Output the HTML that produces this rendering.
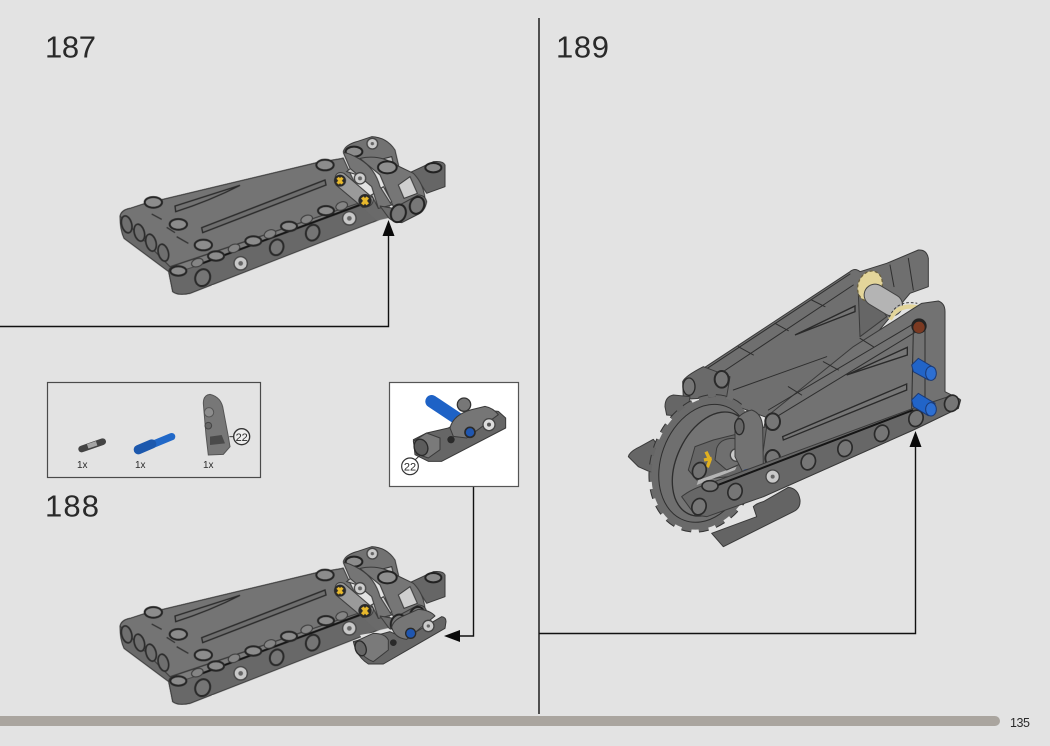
<!DOCTYPE html>
<html><head><meta charset="utf-8"><style>
html,body{margin:0;padding:0;background:#e3e3e3;width:1050px;height:746px;overflow:hidden}
svg{display:block;position:absolute;left:0;top:0}
text{font-family:"Liberation Sans",sans-serif;fill:#2a2a2a}
.k{fill:none;stroke:#2e2e2e;stroke-width:3;stroke-linejoin:round;stroke-linecap:round}
.p{stroke:#3a3a3a;stroke-width:3;stroke-linejoin:round}
</style></head><body>
<svg width="1050" height="746" viewBox="0 0 1050 746" xmlns="http://www.w3.org/2000/svg">
<rect width="1050" height="746" fill="#e3e3e3"/>
<defs>
<g id="m" style="filter:blur(.55px)">
<path class="p" fill="#6a6a6a" d="M30,260 Q32,240 60,235 L100,222 L620,98 L700,85 L750,225 L800,270 L240,490 Q205,498 188,485 L176,425 L42,325 Q30,300 30,260 Z"/>
<path class="p" fill="#747474" d="M30,258 Q35,240 60,235 L100,222 L620,98 L700,85 L760,215 L180,410 Z"/>
<g fill="#6f6f6f" stroke="#2c2c2c" stroke-width="5">
<ellipse cx="50" cy="283" rx="15" ry="26" transform="rotate(-15 50 283)"/>
<ellipse cx="88" cy="308" rx="15" ry="26" transform="rotate(-15 88 308)"/>
<ellipse cx="123" cy="338" rx="15" ry="26" transform="rotate(-15 123 338)"/>
<ellipse cx="160" cy="368" rx="15" ry="26" transform="rotate(-15 160 368)"/>
</g>
<path class="p" fill="#686868" d="M176,425 Q178,408 200,405 L760,215 L810,268 L240,490 Q205,498 188,485 Z"/>
<path d="M740,215 L830,170 L845,262 L800,272 Z" fill="#6a6a6a"/>
<path d="M200,405 L740,222 L750,222 L260,408 L190,430 Z" fill="#7d7d7d" stroke="#3a3a3a" stroke-width="2"/>
<path d="M255,408 L750,225" stroke="#151515" stroke-width="6" fill="none"/>
<g fill="#858585" stroke="#3a3a3a" stroke-width="3">
<ellipse cx="262" cy="398" rx="18" ry="12" transform="rotate(-20 262 398)"/>
<ellipse cx="372" cy="355" rx="18" ry="12" transform="rotate(-20 372 355)"/>
<ellipse cx="480" cy="312" rx="18" ry="12" transform="rotate(-20 480 312)"/>
<ellipse cx="590" cy="268" rx="18" ry="12" transform="rotate(-20 590 268)"/>
<ellipse cx="695" cy="228" rx="18" ry="12" transform="rotate(-20 695 228)"/>
</g>
<g fill="#8c8c8c" stroke="#262626" stroke-width="6">
<ellipse cx="205" cy="423" rx="24" ry="14"/><ellipse cx="318" cy="378" rx="24" ry="14"/>
<ellipse cx="430" cy="333" rx="24" ry="14"/><ellipse cx="537" cy="289" rx="24" ry="14"/>
<ellipse cx="648" cy="242" rx="24" ry="14"/>
<ellipse cx="130" cy="217" rx="26" ry="16"/><ellipse cx="205" cy="283" rx="26" ry="16"/>
<ellipse cx="280" cy="345" rx="26" ry="16"/><ellipse cx="645" cy="105" rx="26" ry="16"/>
</g>
<g fill="#757575" stroke="#2a2a2a" stroke-width="6">
<ellipse cx="278" cy="443" rx="22" ry="26" transform="rotate(20 278 443)"/>
<ellipse cx="500" cy="352" rx="20" ry="24" transform="rotate(20 500 352)"/>
<ellipse cx="608" cy="308" rx="20" ry="24" transform="rotate(20 608 308)"/>
</g>
<g fill="#c9c9c9" stroke="#444" stroke-width="4">
<circle cx="392" cy="400" r="20"/><circle cx="718" cy="265" r="20"/>
</g>
<circle cx="392" cy="400" r="7" fill="#666"/><circle cx="718" cy="265" r="7" fill="#666"/>
<path d="M195,228 L390,166 Q300,212 197,245 Z" fill="#727272" stroke="#2a2a2a" stroke-width="4"/>
<path d="M275,293 L645,150 L648,165 L278,308 Z" fill="#6e6e6e" stroke="#2a2a2a" stroke-width="4"/>
<g stroke="#333" stroke-width="4"><path d="M125,252 L155,268 M170,292 L195,308 M200,320 L235,340"/></g>
<g transform="translate(660,0)">
<path class="p" fill="#666" d="M235,130 L310,95 Q340,92 345,105 L345,170 L290,190 L265,150 Z"/>
<ellipse cx="310" cy="113" rx="24" ry="14" fill="#888" stroke="#222" stroke-width="6"/>
<path class="p" fill="#727272" d="M40,65 Q45,45 80,35 L125,20 Q170,22 195,60 L210,125 L170,130 L90,100 Z"/>
<ellipse cx="72" cy="65" rx="25" ry="15" fill="#8c8c8c" stroke="#222" stroke-width="6"/>
<circle cx="127" cy="41" r="16" fill="#ccc" stroke="#444" stroke-width="4"/>
<circle cx="127" cy="41" r="5" fill="#666"/>
<path d="M145,90 L185,80 L190,100 L155,112 Z" fill="#bdbdbd" stroke="#333" stroke-width="3"/>
<path class="p" fill="#767676" d="M90,85 Q150,72 198,105 L250,130 Q280,160 285,205 L225,235 L190,230 L150,135 Z"/>
<ellipse cx="172" cy="112" rx="28" ry="18" fill="#8f8f8f" stroke="#222" stroke-width="6"/>
<path d="M205,165 L240,140 L262,190 L222,205 Z" fill="#cfcfcf" stroke="#3a3a3a" stroke-width="3"/>
<path d="M125,195 L160,170 L185,215 L145,235 Z" fill="#d5d5d5" stroke="#3a3a3a" stroke-width="3"/>
<path d="M50,125 L85,95 L120,115 L100,140 Z" fill="#c0c0c0" stroke="#3a3a3a" stroke-width="3"/>
<path class="p" fill="#757575" d="M40,68 Q55,68 90,88 Q135,115 150,170 L185,225 L145,235 L125,170 L60,115 Z"/>
<path class="p" fill="#9a9a9a" d="M15,145 Q18,122 42,130 L130,205 Q130,232 98,232 L18,165 Z"/>
<circle cx="90" cy="145" r="17" fill="#cfcfcf" stroke="#444" stroke-width="4"/>
<circle cx="90" cy="145" r="6" fill="#666"/>
<path class="p" fill="#6d6d6d" d="M150,228 L190,235 L265,195 Q285,195 290,215 Q285,245 260,255 L215,278 Q185,275 175,262 Z"/>
<ellipse cx="205" cy="250" rx="22" ry="27" fill="#777" stroke="#222" stroke-width="6" transform="rotate(20 205 250)"/>
<ellipse cx="261" cy="226" rx="21" ry="26" fill="#777" stroke="#222" stroke-width="6" transform="rotate(20 261 226)"/>
<circle cx="30" cy="152" r="18" fill="#2a2a2a"/><circle cx="105" cy="212" r="20" fill="#2a2a2a"/>
<path d="M23,143 L37,161 M37,143 L23,161" stroke="#e8b92c" stroke-width="9"/>
<path d="M97,202 L113,223 M113,202 L97,223" stroke="#e8b92c" stroke-width="10"/>
</g>
</g>
</defs>

<use href="#m" transform="translate(110,130) scale(.33333)"/>
<use href="#m" transform="translate(110,540) scale(.33333)"/>
<g transform="translate(110,540) scale(.33333)" style="filter:blur(.55px)">
<path fill="#e3e3e3" d="M750,285 L845,268 L860,285 L760,305 Z"/>
<path class="p" fill="#666" d="M730,305 L840,275 L885,295 L995,230 Q1008,232 1008,245 L1005,265 L820,372 L775,372 Q740,350 730,305 Z"/>
<path class="p" fill="#767676" d="M845,262 Q850,240 880,228 L925,208 Q960,210 975,228 L890,298 Q855,295 845,262 Z"/>
<path class="p" fill="#7a7a7a" d="M735,305 L790,280 Q825,280 835,300 L835,330 L790,365 Q750,350 735,305 Z"/>
<ellipse cx="752" cy="325" rx="16" ry="23" fill="#666" stroke="#2a2a2a" stroke-width="4" transform="rotate(-20 752 325)"/>
<circle cx="850" cy="308" r="10" fill="#2a2a2a"/>
<circle cx="902" cy="280" r="15" fill="#1f56b0" stroke="#2a2a2a" stroke-width="4"/>
<circle cx="955" cy="258" r="17" fill="#ccc" stroke="#444" stroke-width="4"/>
<circle cx="955" cy="258" r="5" fill="#666"/>
</g>

<!-- 189 -->
<g transform="translate(620,240) scale(.33333)" style="filter:blur(.55px)">
<path class="p" fill="#6f6f6f" d="M250,385 L690,95 Q705,82 720,95 L800,70 L895,30 Q920,28 925,55 L925,140 L870,160 L720,340 L460,540 L300,480 Z"/>
<path class="k" d="M262,385 L690,102 M290,408 L700,135 M340,450 L620,350 M355,320 L400,345 M465,250 L505,272 M575,180 L615,200 M810,75 L822,140 M865,55 L880,150"/>
<path d="M525,285 L705,198 L705,215 Z" fill="#747474" stroke="#2a2a2a" stroke-width="4"/>
<path class="p" fill="#666" d="M715,160 L750,150 L800,230 L720,290 Z"/>
<ellipse cx="750" cy="138" rx="36" ry="46" fill="#e3d59a" stroke="#6a6040" stroke-width="4" stroke-dasharray="9 7" transform="rotate(20 750 138)"/>
<path d="M765,165 L815,195" stroke="#444" stroke-width="68" stroke-linecap="round"/>
<path d="M765,165 L815,195" stroke="#b4b4b4" stroke-width="62" stroke-linecap="round"/>
<path d="M810,238 Q835,190 892,202" fill="none" stroke="#e3d59a" stroke-width="13"/>
<path d="M808,232 Q830,178 892,190" fill="none" stroke="#3a3a3a" stroke-width="3" stroke-dasharray="8 6"/>
<path class="p" fill="#727272" d="M440,530 L700,320 L905,190 L955,183 Q975,190 975,215 L975,455 L1020,478 L1015,505 L880,570 L430,770 L250,830 L210,790 L400,680 Z"/>
<path class="k" d="M445,510 L900,240 M470,530 L905,265 M505,440 L545,465 M610,365 L655,390 M720,295 L760,320 M880,270 L875,510 M915,270 L915,480"/>
<path d="M680,405 L862,322 L862,345 Z" fill="#767676" stroke="#2a2a2a" stroke-width="4"/>
<path d="M488,590 L860,432 L860,450 L490,600 Z" fill="#767676" stroke="#2a2a2a" stroke-width="4"/>
<path class="p" fill="#6a6a6a" d="M188,425 Q195,408 250,380 L330,410 L320,470 L190,478 Z"/>
<ellipse cx="207" cy="440" rx="18" ry="26" fill="#767676" stroke="#2a2a2a" stroke-width="4"/>
<ellipse cx="305" cy="418" rx="21" ry="25" fill="#767676" stroke="#2a2a2a" stroke-width="6"/>
<path class="p" fill="#666" d="M135,500 Q135,470 160,465 L210,470 L200,530 L140,525 Z"/>
<path class="p" fill="#666" d="M25,650 Q28,635 60,620 L100,598 L130,640 L100,700 L55,680 Z"/>
<path class="p" fill="#646464" d="M400,800 Q410,790 430,785 L505,742 Q535,745 540,780 Q542,805 520,815 L310,920 L275,880 L410,830 Z"/>
<ellipse cx="255" cy="670" rx="152" ry="202" fill="none" stroke="#333" stroke-width="22" stroke-dasharray="28 22" transform="rotate(20 255 670)"/>
<ellipse cx="255" cy="670" rx="152" ry="202" fill="none" stroke="#6a6a6a" stroke-width="16" stroke-dasharray="28 22" transform="rotate(20 255 670)"/>
<ellipse cx="255" cy="670" rx="152" ry="202" fill="#6a6a6a" stroke="#6a6a6a" stroke-width="4" transform="rotate(20 255 670)"/>
<ellipse cx="255" cy="670" rx="132" ry="182" fill="#6f6f6f" stroke="#2e2e2e" stroke-width="3" transform="rotate(20 255 670)"/>
<ellipse cx="275" cy="672" rx="105" ry="165" fill="#747474" stroke="#2e2e2e" stroke-width="4" transform="rotate(25 275 672)"/>
<path d="M205,690 L225,620 L280,600 L440,560 L420,700 L230,720 Z" fill="#666" stroke="#3a3a3a" stroke-width="3"/>
<path d="M235,720 L350,680 L345,690 L230,735 Z" fill="#b5b5b5"/>
<path class="p" fill="#6f6f6f" d="M290,625 Q300,595 340,595 L380,610 L365,670 L320,690 L285,660 Z"/>
<circle cx="350" cy="645" r="19" fill="#c9c9c9" stroke="#444" stroke-width="4"/>
<circle cx="350" cy="645" r="6" fill="#666"/>
<path class="p" fill="#727272" d="M345,550 Q355,520 395,510 Q425,520 428,560 L430,680 L370,700 L345,650 Z"/>
<ellipse cx="358" cy="560" rx="14" ry="24" fill="#666" stroke="#2a2a2a" stroke-width="4"/>
<path d="M258,635 L270,660 L262,682 M252,660 L275,655" stroke="#e0b020" stroke-width="10" fill="none"/>
<ellipse cx="238" cy="692" rx="20" ry="25" fill="#727272" stroke="#2a2a2a" stroke-width="5" transform="rotate(20 238 692)"/>
<ellipse cx="458" cy="545" rx="22" ry="25" fill="#767676" stroke="#2a2a2a" stroke-width="6"/>
<ellipse cx="458" cy="655" rx="22" ry="25" fill="#767676" stroke="#2a2a2a" stroke-width="6"/>
<ellipse cx="390" cy="695" rx="22" ry="9" fill="#173c82"/>
<path class="p" fill="#676767" d="M185,770 Q215,745 270,730 L880,505 L1000,465 L1022,480 L1015,505 L880,570 L430,770 L260,830 L225,825 Z"/>
<path d="M260,748 L880,510" stroke="#151515" stroke-width="6" fill="none"/>
<ellipse cx="270" cy="738" rx="24" ry="16" fill="#787878" stroke="#2a2a2a" stroke-width="5"/>
<g fill="#767676" stroke="#2a2a2a" stroke-width="5">
<ellipse cx="237" cy="800" rx="21" ry="25" transform="rotate(20 237 800)"/>
<ellipse cx="345" cy="755" rx="21" ry="25" transform="rotate(20 345 755)"/>
<ellipse cx="565" cy="665" rx="21" ry="25" transform="rotate(20 565 665)"/>
<ellipse cx="675" cy="625" rx="21" ry="25" transform="rotate(20 675 625)"/>
<ellipse cx="785" cy="580" rx="21" ry="25" transform="rotate(20 785 580)"/>
<ellipse cx="888" cy="535" rx="21" ry="25" transform="rotate(20 888 535)"/>
<ellipse cx="995" cy="490" rx="21" ry="25" transform="rotate(20 995 490)"/>
</g>
<circle cx="458" cy="710" r="20" fill="#c9c9c9" stroke="#444" stroke-width="4"/>
<circle cx="458" cy="710" r="6" fill="#666"/>
<circle cx="897" cy="258" r="23" fill="#232323"/><circle cx="897" cy="262" r="17" fill="#7b3a22"/>
<path d="M875,375 L895,355 L945,385 L945,415 L925,420 L880,395 Z" fill="#2164c8" stroke="#1b3a75" stroke-width="3"/>
<ellipse cx="933" cy="400" rx="16" ry="21" fill="#2d6fd2" stroke="#1b3a75" stroke-width="3"/>
<path d="M875,480 L895,460 L945,490 L945,520 L925,527 L880,500 Z" fill="#2164c8" stroke="#1b3a75" stroke-width="3"/>
<ellipse cx="933" cy="508" rx="16" ry="20" fill="#2d6fd2" stroke="#1b3a75" stroke-width="3"/>
</g>

<!-- lines -->
<g fill="none" stroke="#111" stroke-width="1.4">
<path d="M0,326.5 H388.5 V234"/>
<path d="M473.5,487 V636 H458"/>
<path d="M539,18 V714"/>
<path d="M539,633.5 H915.5 V445"/>
</g>
<g fill="#0a0a0a">
<path d="M388.5,220 L394.5,236 L382.5,236 Z"/>
<path d="M444,636 L460,630 L460,642 Z"/>
<path d="M915.5,431 L921.5,447 L909.5,447 Z"/>
</g>

<!-- inset 1 -->
<rect x="47.5" y="382.5" width="213" height="95" fill="none" stroke="#4a4a4a" stroke-width="1.2"/>
<g transform="translate(40,375) scale(.33333)" style="filter:blur(.45px)">
<path d="M125,222 L188,200" stroke="#444" stroke-width="20" stroke-linecap="round"/>
<path d="M143,214 L170,205" stroke="#a5a5a5" stroke-width="14"/>
<path d="M295,226 L395,185" stroke="#2168c8" stroke-width="22" stroke-linecap="round"/>
<path d="M295,224 L335,207" stroke="#1c58ad" stroke-width="28" stroke-linecap="round"/>
<path fill="#777" stroke="#555" stroke-width="3" d="M490,85 Q490,60 510,58 Q540,65 548,95 L565,185 L570,215 L550,238 L505,240 L498,180 Z"/>
<circle cx="507" cy="112" r="14" fill="#8d8d8d" stroke="#555" stroke-width="3"/>
<circle cx="505" cy="152" r="10" fill="#666" stroke="#444" stroke-width="3"/>
<path d="M510,185 L545,180 L555,205 L510,210 Z" fill="#4a4a4a"/>
<path d="M568,185 H585" stroke="#333" stroke-width="3"/>
<circle cx="605" cy="185" r="24" fill="#eee" stroke="#333" stroke-width="4"/>
</g>
<text x="241.7" y="441" text-anchor="middle" font-size="11">22</text>
<text x="77" y="468" font-size="10">1x</text>
<text x="135" y="468" font-size="10">1x</text>
<text x="203" y="468" font-size="10">1x</text>

<!-- inset 2 -->
<rect x="389.5" y="382.5" width="129" height="104" fill="#fff" stroke="#555" stroke-width="1.2"/>
<g transform="translate(385,378) scale(.33333)" style="filter:blur(.45px)">
<circle cx="237" cy="80" r="20" fill="#777" stroke="#333" stroke-width="4"/>
<path d="M140,70 L215,120" stroke="#1e62c6" stroke-width="38" stroke-linecap="round"/>
<path class="p" fill="#666" d="M85,185 L125,165 L190,150 L290,95 L340,100 L362,120 L362,150 L170,250 L130,250 L90,230 Z"/>
<path class="p" fill="#767676" d="M195,150 Q205,110 260,95 L300,85 Q325,90 340,110 L245,180 L205,175 Z"/>
<path class="p" fill="#7a7a7a" d="M85,190 L125,165 L165,180 L165,215 L130,240 L95,228 Z"/>
<ellipse cx="108" cy="208" rx="20" ry="25" fill="#5c5c5c" stroke="#2a2a2a" stroke-width="4" transform="rotate(-20 108 208)"/>
<circle cx="198" cy="185" r="11" fill="#2a2a2a"/>
<circle cx="255" cy="163" r="15" fill="#1f56b0" stroke="#2a2a2a" stroke-width="5"/>
<circle cx="312" cy="140" r="18" fill="#ddd" stroke="#444" stroke-width="4"/>
<circle cx="312" cy="140" r="6" fill="#555"/>
<path d="M85,250 L105,232" stroke="#333" stroke-width="3"/>
<circle cx="75" cy="265" r="25" fill="#fff" stroke="#333" stroke-width="3.5"/>
</g>
<text x="410" y="470.5" text-anchor="middle" font-size="11">22</text>

<!-- titles -->
<text x="45" y="57.5" font-size="31" textLength="51" lengthAdjust="spacing" fill="#333">187</text>
<text x="45" y="516.5" font-size="31" textLength="54" lengthAdjust="spacing" fill="#333">188</text>
<text x="556" y="57.5" font-size="31" textLength="53" lengthAdjust="spacing" fill="#333">189</text>

<!-- bottom bar -->
<path d="M0,716 H995 A5,5 0 0 1 995,726 H0 Z" fill="#aaa59f"/>
<text x="1010" y="727" font-size="12.5" textLength="20">135</text>
</svg>
</body></html>
